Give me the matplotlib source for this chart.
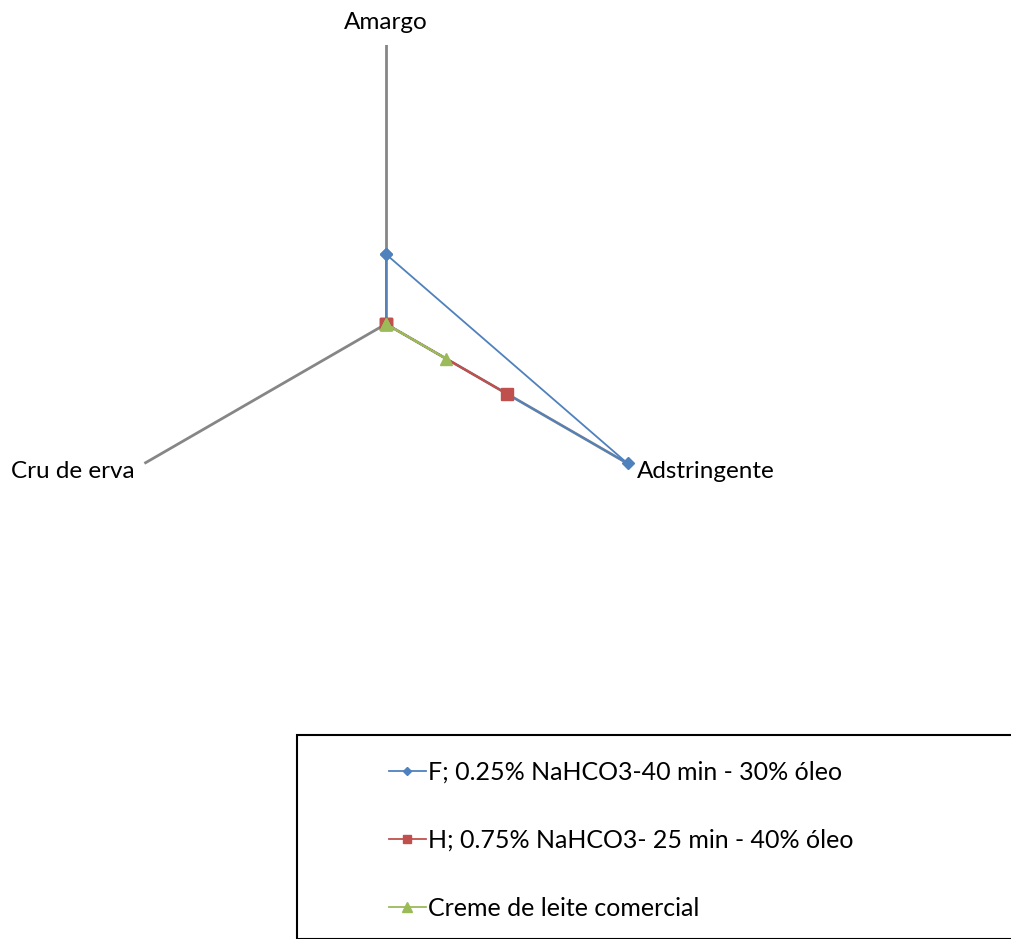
import numpy as np
import matplotlib.pyplot as plt
from matplotlib.patches import Rectangle

plt.rcParams['font.family'] = ['Lato', 'DejaVu Sans']

atributos = ['Amargo', 'Adstringente', 'Cru de erva']
serie_f = [1, 4, 0]
serie_h = [0, 2, 0]
serie_creme = [0, 1, 0]
nomes = ['F; 0.25% NaHCO3-40 min - 30% óleo',
         'H; 0.75% NaHCO3- 25 min - 40% óleo',
         'Creme de leite comercial']
rmax = 4

fig = plt.figure(figsize=(10.12, 9.39), dpi=100)
ax = fig.add_axes([0.1057, 0.3579, 0.5514, 0.5942], projection='polar')
ax.set_theta_offset(np.pi / 2)
ax.set_theta_direction(-1)
ax.set_ylim(0, rmax)
ax.grid(False)
ax.spines['polar'].set_visible(False)
ax.set_xticks([])
ax.set_yticks([])
ax.patch.set_alpha(0)

ang = np.linspace(0, 2 * np.pi, len(atributos), endpoint=False)

# eixos (raios)
for a in ang:
    ax.plot([a, a], [0, rmax], color='#868686', lw=2, zorder=1)

def fechar(v):
    return list(v) + [v[0]]

angs = list(ang) + [ang[0]]
ax.plot(angs, fechar(serie_f), color='#4F81BD', lw=1.3, marker='D', ms=6,
        label=nomes[0], zorder=3, clip_on=False)
ax.plot(angs, fechar(serie_h), color='#C0504D', lw=1.3, marker='s', ms=8,
        label=nomes[1], zorder=4, clip_on=False)
ax.plot(angs, fechar(serie_creme), color='#9BBB59', lw=1.3, marker='^', ms=9,
        label=nomes[2], zorder=5, clip_on=False)

# rótulos dos atributos
offs = [((0, 16.5), 'center', 'center'),
        ((7, -5.5), 'left', 'center'),
        ((-7, -5.5), 'right', 'center')]
for a, nome, (xy, ha, va) in zip(ang, atributos, offs):
    ax.annotate(nome, (a, rmax), xytext=xy, textcoords='offset points',
                ha=ha, va=va, fontsize=17.5, annotation_clip=False)

# legenda com moldura
fig.patches.append(Rectangle((297 / 1012, 0), 1, 1 - 735 / 939,
                             transform=fig.transFigure, fill=False,
                             edgecolor='black', lw=1.5, clip_on=False))
fig.legend(loc='upper left', bbox_to_anchor=(366 / 1012, 1 - 738 / 939),
           frameon=False, fontsize=18, handlelength=1.5, handletextpad=0.1,
           labelspacing=1.8, markerscale=0.75)

fig.savefig('out.png', dpi=100)
